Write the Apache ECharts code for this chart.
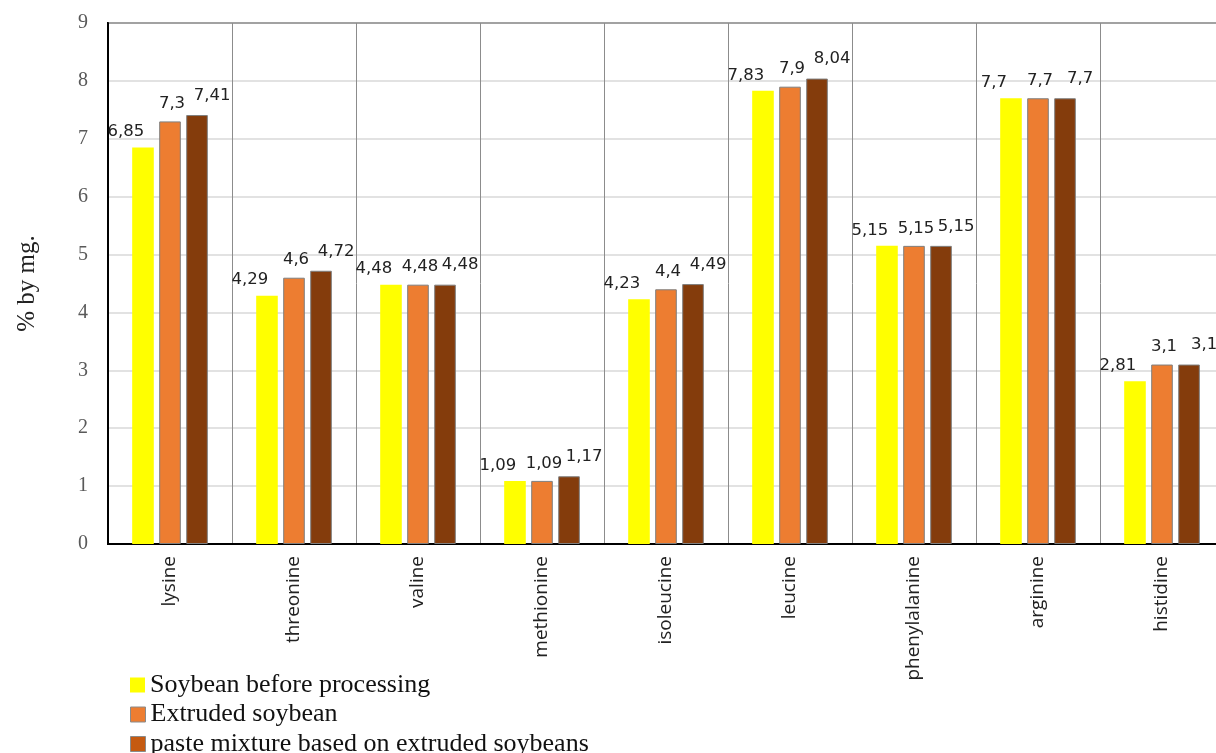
<!DOCTYPE html>
<html>
<head>
<meta charset="utf-8">
<script src="https://cdn.jsdelivr.net/npm/echarts@6/dist/echarts.min.js"></script>
<style>
  html, body { margin: 0; padding: 0; background: #fff; }
  #chart { width: 1216px; height: 753px; }
</style>
</head>
<body>
<div id="chart"></div>
<script>
// Amino acid content of soybean products, % by mg.
const aminoAcids = ['lysine', 'threonine', 'valine', 'methionine', 'isoleucine',
                    'leucine', 'phenylalanine', 'arginine', 'histidine'];
const seriesNames = ['Soybean before processing', 'Extruded soybean',
                     'paste mixture based on extruded soybeans'];
const rawSoybean      = [6.85, 4.29, 4.48, 1.09, 4.23, 7.83, 5.15, 7.7, 2.81];
const extrudedSoybean = [7.3,  4.6,  4.48, 1.09, 4.4,  7.9,  5.15, 7.7, 3.1];
const pasteMixture    = [7.41, 4.72, 4.48, 1.17, 4.49, 8.04, 5.15, 7.7, 3.1];
const yTicks = [0, 1, 2, 3, 4, 5, 6, 7, 8, 9];

const barColors = ['#FFFF00', '#ED7D31', '#843C0C'];
const legendColors = ['#FFFF00', '#ED7D31', '#C55A11'];
const labelShift = [[-17, -2], [2, -4], [15, -6]];

const fmt = v => String(v).replace('.', ',');

const makeSeries = (name, values, i) => ({
  name: name,
  type: 'bar',
  data: values,
  barGap: '25%',
  barCategoryGap: '39%',
  itemStyle: {
    color: barColors[i],
    borderColor: i === 0 ? 'transparent' : '#7F7F7F',
    borderWidth: i === 0 ? 0 : 1
  },
  label: {
    show: true,
    position: 'top',
    distance: 5,
    offset: labelShift[i],
    formatter: p => fmt(p.value),
    fontFamily: 'DejaVu Sans',
    fontSize: 16.5,
    color: '#222'
  },
  emphasis: { disabled: true }
});

// one legend block per series so the entries stack in a single column
const legendRows = seriesNames.map((n, i) => ({
  orient: 'vertical',
  left: 125, top: 667 + i * 29.5,
  itemWidth: 15, itemHeight: 15,
  icon: 'rect',
  selectedMode: false,
  textStyle: { fontFamily: 'Liberation Serif', fontSize: 26, color: '#111' },
  data: [{
    name: n,
    itemStyle: { color: legendColors[i], borderColor: i === 0 ? 'transparent' : '#8a8a8a', borderWidth: i === 0 ? 0 : 1 }
  }]
}));

const chart = echarts.init(document.getElementById('chart'), null, { renderer: 'canvas' });
chart.setOption({
  animation: false,
  backgroundColor: '#fff',
  grid: {
    left: 108, width: 1116, top: 23, height: 521,
    outerBoundsMode: 'none',
    show: true, borderColor: '#000', borderWidth: 2, backgroundColor: 'transparent'
  },
  legend: legendRows,
  xAxis: {
    type: 'category',
    data: aminoAcids,
    axisLine: { show: true, lineStyle: { color: '#000', width: 2 } },
    axisTick: { show: false },
    splitLine: { show: true, lineStyle: { color: '#8C8C8C', width: 1 } },
    axisLabel: {
      rotate: 90, margin: 12, interval: 0,
      fontFamily: 'Open Sans', fontSize: 19, color: '#222'
    }
  },
  yAxis: {
    type: 'value',
    min: yTicks[0], max: yTicks[yTicks.length - 1], interval: 1,
    name: '% by mg.',
    nameLocation: 'middle',
    nameGap: 68,
    nameTextStyle: { fontFamily: 'Liberation Serif', fontSize: 25, color: '#222' },
    axisLine: { show: true, lineStyle: { color: '#000', width: 2 } },
    axisTick: { show: false },
    splitLine: { show: true, lineStyle: { color: '#D9D9D9', width: 1.5 } },
    axisLabel: {
      margin: 20,
      fontFamily: 'Liberation Serif', fontSize: 20, color: '#595959',
      formatter: v => (yTicks.includes(v) ? String(v) : '')
    }
  },
  series: [
    makeSeries(seriesNames[0], rawSoybean, 0),
    makeSeries(seriesNames[1], extrudedSoybean, 1),
    makeSeries(seriesNames[2], pasteMixture, 2)
  ]
});
</script>
</body>
</html>
